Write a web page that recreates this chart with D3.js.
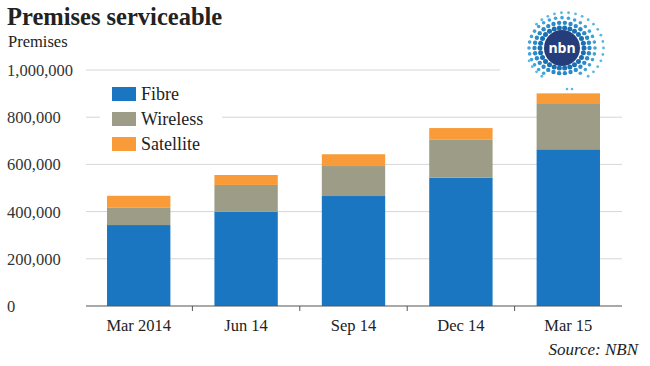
<!DOCTYPE html>
<html><head><meta charset="utf-8">
<script src="https://cdn.jsdelivr.net/npm/d3@7"></script>
<style>body{margin:0;background:#fff}svg{display:block}</style>
</head><body>
<svg id="c" width="650" height="366"></svg>
<script>
const categories = ["Mar 2014", "Jun 14", "Sep 14", "Dec 14", "Mar 15"];
const fibre = [343000, 400000, 466000, 544000, 664000];
const wireless = [75000, 113000, 127000, 162000, 192000];
const satellite = [49000, 42000, 50000, 48000, 45000];
const seriesNames = ["Fibre", "Wireless", "Satellite"];
const seriesColors = ["#1b76c2", "#9d9c86", "#f89b38"];
const yTicks = [0, 200000, 400000, 600000, 800000, 1000000];

const svg = d3.select("#c");
const serif = "'Liberation Serif', 'DejaVu Serif', serif";
const x = d3.scaleBand().domain(categories).range([85, 622]).paddingInner(0.41).paddingOuter(0.205);
const y = d3.scaleLinear().domain([0, 1000000]).range([306, 70]);

// gridlines
svg.append("g").selectAll("line").data(yTicks.filter(d => d > 0)).join("line")
  .attr("x1", 86).attr("x2", d => d === 1000000 ? 500 : 622)
  .attr("y1", d => y(d)).attr("y2", d => y(d))
  .attr("stroke", "#d6d6d6").attr("stroke-width", 1);

// y labels (left aligned)
svg.append("g").selectAll("text").data(yTicks).join("text")
  .attr("x", 7).attr("y", d => y(d) + 6)
  .attr("font-family", serif).attr("font-size", 16.5).attr("fill", "#333")
  .text(d => d3.format(",")(d));

// stacked bars
const rows = categories.map((c, i) => ({cat: c, Fibre: fibre[i], Wireless: wireless[i], Satellite: satellite[i]}));
const stack = d3.stack().keys(seriesNames)(rows);
svg.append("g").selectAll("g").data(stack).join("g")
  .attr("fill", (d, i) => seriesColors[i])
  .selectAll("rect").data(d => d).join("rect")
  .attr("x", d => x(d.data.cat)).attr("width", x.bandwidth())
  .attr("y", d => y(d[1])).attr("height", d => y(d[0]) - y(d[1]));

// x axis
const xAxis = svg.append("g").attr("transform", "translate(0,306)");
xAxis.append("line").attr("x1", 86).attr("x2", 622).attr("stroke", "#555").attr("stroke-width", 1.2);
const step = x.step();
const bounds = categories.slice(1).map(c => x(c) - (step - x.bandwidth()) / 2);
xAxis.selectAll("line.t").data(bounds).join("line").attr("class", "t")
  .attr("x1", d => d).attr("x2", d => d).attr("y1", 0).attr("y2", 5)
  .attr("stroke", "#555");
xAxis.selectAll("text").data(categories).join("text")
  .attr("x", d => x(d) + x.bandwidth() / 2).attr("y", 25)
  .attr("text-anchor", "middle").attr("font-family", serif).attr("font-size", 16.5).attr("fill", "#222")
  .text(d => d);

// legend
const lg = svg.append("g");
lg.append("rect").attr("x", 100).attr("y", 80).attr("width", 122).attr("height", 78).attr("fill", "#fff");
seriesNames.forEach((s, i) => {
  lg.append("rect").attr("x", 112).attr("y", 87 + i * 25).attr("width", 24).attr("height", 14).attr("fill", seriesColors[i]);
  lg.append("text").attr("x", 141).attr("y", 100 + i * 25).attr("font-family", serif).attr("font-size", 18).attr("fill", "#222").text(s);
});

// titles
svg.append("text").attr("x", 7).attr("y", 25).attr("font-family", serif).attr("font-weight", "bold")
  .attr("font-size", 24.5).attr("fill", "#222").text("Premises serviceable");
svg.append("text").attr("x", 8).attr("y", 47).attr("font-family", serif)
  .attr("font-size", 16.5).attr("fill", "#222").text("Premises");
svg.append("text").attr("x", 638).attr("y", 355).attr("text-anchor", "end").attr("font-family", serif)
  .attr("font-style", "italic").attr("font-size", 17).attr("fill", "#222").text("Source: NBN");

// nbn logo (decorative)
const logo = svg.append("g").attr("transform", "translate(562,48)");
const rings = [
  {r: 22, n: 26, s: 2.5, c: "#1a6fb3"},
  {r: 27.5, n: 30, s: 2.2, c: "#2a8ac8"},
  {r: 33, n: 32, s: 1.8, c: "#3fa3d8"},
  {r: 38.5, n: 34, s: 1.4, c: "#5bb8e4"}
];
rings.forEach((rg, k) => {
  for (let j = 0; j < rg.n; j++) {
    const a = j / rg.n * Math.PI * 2;
    const deg = a * 180 / Math.PI;
    if (k >= 2 && (deg > 60 && deg < 120)) continue;
    if (k === 3 && (deg > 160 && deg < 215)) continue;
    logo.append("circle").attr("cx", Math.cos(a) * rg.r + (k === 3 ? 3 : 0)).attr("cy", Math.sin(a) * rg.r * 0.92)
      .attr("r", rg.s).attr("fill", rg.c);
  }
});
logo.append("circle").attr("cx", 5).attr("cy", 41).attr("r", 1.3).attr("fill", "#5bb8e4");
logo.append("circle").attr("cx", 10).attr("cy", 41).attr("r", 1.3).attr("fill", "#5bb8e4");
logo.append("circle").attr("r", 18).attr("fill", "#253d7a");
logo.append("text").attr("y", 5).attr("text-anchor", "middle").attr("font-family", "'Open Sans', sans-serif")
  .attr("font-weight", "bold").attr("font-size", 14).attr("fill", "#fff").text("nbn");
</script>
</body></html>
